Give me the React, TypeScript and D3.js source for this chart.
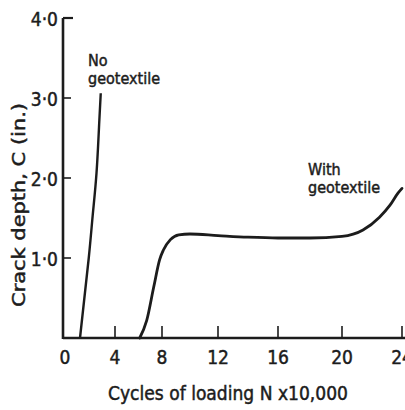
import React from 'react';
import * as d3 from 'd3';

// ==== data

const xTicks = [0, 4, 8, 12, 16, 20, 24];
const yTicks = [1.0, 2.0, 3.0, 4.0];
const yTickLabels = ['1·0', '2·0', '3·0', '4·0'];

const noGeoN = [1.2, 1.9, 2.22, 2.52, 2.74, 2.86];
const noGeoC = [0, 1.0, 1.54, 2.06, 2.7, 3.06];

const withGeoN = [6.1, 6.7, 7.3, 7.8, 8.1, 8.6, 9.2, 10, 12, 14, 16, 18, 20, 21.4, 22.5, 23.2, 23.73, 24];
const withGeoC = [0, 0.22, 0.64, 0.98, 1.1, 1.23, 1.29, 1.3, 1.28, 1.26, 1.25, 1.25, 1.27, 1.35, 1.51, 1.66, 1.81, 1.87];

// ==== layout

const W = 405;
const H = 410;
// the scanned axis is not evenly spaced, so the x scale is calibrated on every tick
const xTickPx = [65, 115, 162, 218, 278, 342, 402];
const INK = '#1c1c1c';
const FONT = '"DejaVu Sans Condensed", "DejaVu Sans", sans-serif';

const x = d3.scaleLinear().domain(xTicks).range(xTickPx);
const y = d3.scaleLinear().domain([0, 4]).range([338, 18]);

const makeLine = (curve: d3.CurveFactory) => d3.line<[number, number]>()
    .x((d) => x(d[0]))
    .y((d) => y(d[1]))
    .curve(curve);

const noGeo = noGeoN.map((n, i) => [n, noGeoC[i]] as [number, number]);
const withGeo = withGeoN.map((n, i) => [n, withGeoC[i]] as [number, number]);

export default function App() {
    const x0 = x(0) - 2;
    const y0 = y(0);

    return (
        <svg
            width={W}
            height={H}
            style={{ position: 'absolute', left: 0, top: 0, background: '#fff' }}
            fontFamily={FONT}
            fill={INK}
            stroke={INK}
            strokeWidth={0.45}>

            {/* axes */}
            <line x1={x0} x2={x0} y1={y(4)} y2={y0 + 1} strokeWidth={2.6} />
            <line x1={x0} x2={W} y1={y0} y2={y0} strokeWidth={2.6} />

            {yTicks.map((t) => (
                <line key={'yt' + t} x1={x0} x2={x0 + (t === 4 ? 10 : 8)} y1={y(t)} y2={y(t)}
                    strokeWidth={t === 4 ? 2.2 : 1.6} />
            ))}
            {xTicks.slice(1).map((t) => (
                <line key={'xt' + t} x1={x(t)} x2={x(t)} y1={y0} y2={y0 - 12}
                    strokeWidth={1.6} />
            ))}

            {/* tick labels */}
            {yTicks.map((t, i) => (
                <text key={'yl' + t} x={x0 - 5} y={y(t) + 8} textAnchor="end" fontSize={19}>
                    {yTickLabels[i]}
                </text>
            ))}
            {xTicks.map((t) => (
                <text key={'xl' + t} x={x(t)} y={364} textAnchor="middle" fontSize={19}>
                    {t}
                </text>
            ))}

            {/* axis titles */}
            <text x={228} y={400} textAnchor="middle" fontSize={19}
                textLength={240} lengthAdjust="spacingAndGlyphs">
                Cycles of loading N x10,000
            </text>
            <text transform="translate(25,205) rotate(-90)" textAnchor="middle" fontSize={18}
                textLength={204} lengthAdjust="spacingAndGlyphs">
                Crack depth, C (in.)
            </text>

            {/* curves */}
            <path d={makeLine(d3.curveNatural)(noGeo) || ''} fill="none" strokeWidth={2.4} />
            <path d={makeLine(d3.curveMonotoneX)(withGeo) || ''} fill="none" strokeWidth={2.8} strokeLinecap="round" />

            {/* curve labels */}
            <text x={88} y={66} fontSize={16}>No</text>
            <text x={88} y={84} fontSize={16}>geotextile</text>
            <text x={308} y={175} fontSize={16}>With</text>
            <text x={308} y={193} fontSize={16}>geotextile</text>
        </svg>
    );
}
